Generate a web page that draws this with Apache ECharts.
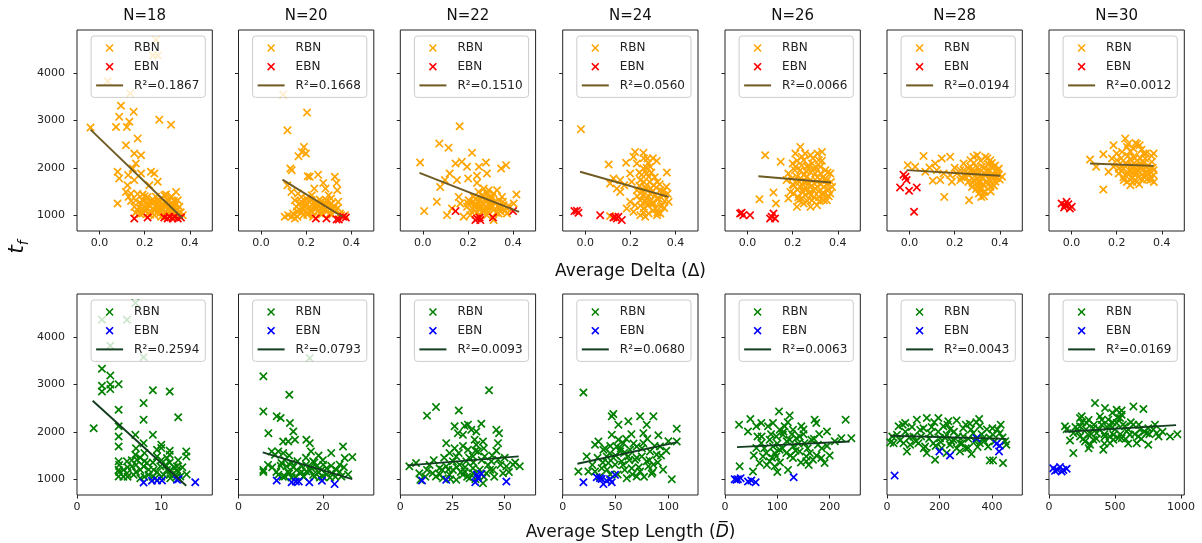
<!DOCTYPE html>
<html><head><meta charset="utf-8">
<script src="https://cdn.jsdelivr.net/npm/echarts@6/dist/echarts.min.js"></script>
<style>html,body{margin:0;padding:0;background:#fff}#c{width:1202px;height:543px}</style>
</head><body><div id="c"></div>
<script>
// ---------- DATA ----------
const nValues = [18, 20, 22, 24, 26, 28, 30];
const topR2 = ['0.1867', '0.1668', '0.1510', '0.0560', '0.0066', '0.0194', '0.0012'];
const botR2 = ['0.2594', '0.0793', '0.0093', '0.0680', '0.0063', '0.0043', '0.0169'];
const yTicks = [1000, 2000, 3000, 4000];
const deltaTicks = [0, 0.2, 0.4];
const stepTicks = [[0, 10], [0, 20], [0, 25, 50], [0, 50, 100], [0, 100, 200], [0, 200, 400], [0, 500, 1000]];
const stepMax = [16.05, 32.1, 64.8, 128, 258.6, 515, 1025];

// Average Delta panels (top row)
const d18R = [[-0.04,2850],[0.25,4700],[0.236,4370],[0.258,4370],[0.036,3825],[0.136,3565],[0.095,3310],[0.087,3075],[0.073,2860],[0.132,2970],[0.121,2860],[0.151,3180],[0.265,3015],[0.317,2910],[0.169,2615],[0.117,2475],[0.154,2300],[0.184,2265],[0.161,2090],[0.147,1985],[0.08,1915],[0.087,1775],[0.127,1845],[0.154,1740],[0.184,1880],[0.228,1915],[0.243,1880],[0.258,1705],[0.221,1630],[0.124,1630],[0.117,1490],[0.139,1455],[0.129,1385],[0.08,1245],[0.169,1445],[0.191,1435],[0.213,1385],[0.295,1435],[0.339,1490],[0.347,1315],[0.317,1385],[0.273,1350],[0.184,1245],[0.198,1175],[0.221,1280],[0.236,1140],[0.25,1210],[0.265,1105],[0.28,1245],[0.295,1175],[0.31,1070],[0.324,1245],[0.332,1140],[0.347,1035],[0.369,1000],[0.169,1105],[0.213,1035],[0.243,1000],[0.258,1070],[0.287,1000],[0.302,1315],[0.236,1330],[0.213,1140],[0.191,1035],[0.273,965],[0.324,965],[0.354,1175],[0.154,1175],[0.206,1280],[0.258,1315],[0.287,1420],[0.161,1315],[0.2,1100],[0.23,1060],[0.27,1180],[0.3,1120],[0.34,1080],[0.31,980],[0.18,1020],[0.26,1240],[0.22,1200],[0.35,1000],[0.16,1050],[0.175,1160],[0.19,1320],[0.205,1090],[0.215,1230],[0.225,1010],[0.235,1260],[0.245,1090],[0.255,1160],[0.262,1290],[0.27,1050],[0.278,1130],[0.285,1200],[0.292,1060],[0.3,1260],[0.308,1150],[0.315,1010],[0.322,1180],[0.33,1300],[0.338,1220],[0.345,1120],[0.36,1060],[0.14,1300],[0.2,1400],[0.25,1390],[0.32,1390]];
const d18E = [[0.154,930],[0.213,950],[0.287,950],[0.31,965],[0.324,930],[0.347,930],[0.361,950],[0.332,965],[0.302,930]];
const d18L = [[-0.04,2805],[0.369,930]];

const d20R = [[0.098,3545],[0.204,3165],[0.117,2790],[0.19,2440],[0.181,2335],[0.166,2245],[0.199,2300],[0.13,1985],[0.136,1950],[0.117,1630],[0.216,1810],[0.207,1820],[0.253,1855],[0.276,1680],[0.286,1560],[0.327,1810],[0.335,1680],[0.338,1525],[0.236,1560],[0.135,1490],[0.164,1455],[0.15,1315],[0.179,1280],[0.201,1350],[0.224,1315],[0.246,1245],[0.268,1280],[0.29,1315],[0.313,1245],[0.12,1000],[0.142,1035],[0.172,1105],[0.194,1175],[0.216,1105],[0.238,1175],[0.261,1140],[0.283,1105],[0.305,1035],[0.32,1140],[0.187,1000],[0.209,1035],[0.157,1175],[0.179,1385],[0.135,965],[0.261,1035],[0.231,965],[0.29,1210],[0.342,1280],[0.35,1035],[0.372,1000],[0.15,930],[0.105,965],[0.161,965],[0.2,1230],[0.25,1080],[0.3,1180],[0.33,1100],[0.18,1060],[0.27,1020],[0.16,1080],[0.17,1250],[0.185,1130],[0.195,1300],[0.205,1010],[0.215,1180],[0.225,1070],[0.235,1250],[0.245,1140],[0.255,1200],[0.265,1060],[0.275,1170],[0.285,1260],[0.295,1090],[0.305,1220],[0.315,1010],[0.325,1180],[0.34,1150],[0.355,1000],[0.21,1300],[0.26,1330],[0.31,1350],[0.225,1420],[0.3,1420]];
const d20E = [[0.243,930],[0.29,930],[0.335,910],[0.345,910],[0.376,950],[0.364,965]];
const d20L = [[0.095,1750],[0.361,965]];

const d22R = [[0.163,2875],[0.073,2510],[0.114,2425],[-0.012,2110],[0.218,2315],[0.145,2090],[0.173,2125],[0.196,2020],[0.249,2020],[0.28,2110],[0.284,1880],[0.201,1775],[0.24,1830],[0.24,1680],[0.151,1740],[0.119,1880],[0.098,1740],[0.077,1595],[0.369,2055],[0.347,1985],[0.415,1435],[0.062,1280],[0.006,1085],[0.107,1000],[0.159,1385],[0.166,1245],[0.203,1315],[0.225,1385],[0.247,1490],[0.27,1560],[0.292,1525],[0.314,1455],[0.329,1525],[0.351,1385],[0.233,1245],[0.255,1315],[0.277,1350],[0.299,1245],[0.321,1280],[0.225,1105],[0.247,1140],[0.27,1070],[0.292,1140],[0.314,1105],[0.336,1035],[0.21,1000],[0.284,1000],[0.373,1140],[0.403,1245],[0.196,1175],[0.129,1140],[0.181,965],[0.314,895],[0.373,1035],[0.358,1210],[0.307,1385],[0.262,1420],[0.26,1200],[0.3,1300],[0.28,1180],[0.24,1050],[0.34,1160],[0.21,1100],[0.22,1260],[0.23,1180],[0.235,1350],[0.245,1280],[0.25,1020],[0.258,1160],[0.265,1240],[0.27,1400],[0.275,1120],[0.282,1290],[0.288,1060],[0.295,1200],[0.302,1340],[0.31,1180],[0.318,1260],[0.325,1050],[0.332,1190],[0.34,1300],[0.345,1080],[0.355,1280],[0.365,1100],[0.38,1200],[0.2,1250],[0.285,1450]];
const d22E = [[0.145,1085],[0.24,930],[0.252,950],[0.233,895],[0.311,950],[0.4,1085],[0.255,895]];
const d22L = [[-0.015,1890],[0.427,1070]];

const d24R = [[-0.019,2815],[0.104,2070],[0.181,2105],[0.221,2335],[0.258,2315],[0.276,2195],[0.317,2145],[0.362,1900],[0.199,1880],[0.229,2090],[0.11,1670],[0.14,1560],[0.155,1490],[0.173,1630],[0.206,1705],[0.244,1740],[0.273,1880],[0.288,2020],[0.266,1595],[0.303,1630],[0.333,1525],[0.288,1455],[0.318,1350],[0.348,1420],[0.37,1280],[0.244,1315],[0.221,1210],[0.184,1140],[0.199,1280],[0.258,1140],[0.281,1035],[0.311,1140],[0.34,1210],[0.244,1000],[0.214,1070],[0.333,1035],[0.296,1245],[0.273,1350],[0.251,1490],[0.229,1525],[0.155,1740],[0.125,1775],[0.281,1810],[0.258,1985],[0.214,2230],[0.11,980],[0.266,965],[0.318,1000],[0.29,1560],[0.31,1420],[0.27,1260],[0.3,1100],[0.26,1700],[0.32,1700],[0.28,1400],[0.23,1400],[0.24,1620],[0.245,1200],[0.25,1850],[0.255,1420],[0.26,1050],[0.265,1300],[0.27,1550],[0.272,2000],[0.278,1200],[0.285,1700],[0.29,1300],[0.293,1900],[0.298,1500],[0.305,1250],[0.308,1800],[0.315,1580],[0.32,1050],[0.325,1350],[0.33,1650],[0.335,1180],[0.345,1500],[0.352,1300],[0.36,1600],[0.365,1450],[0.28,2100],[0.3,2200],[0.24,1900],[0.26,2200],[0.35,1150]];
const d24E = [[-0.048,1085],[-0.03,1050],[-0.037,1090],[0.066,1000],[0.125,950],[0.14,930],[0.147,965],[0.162,895],[0.133,965]];
const d24L = [[-0.023,1915],[0.37,1385]];

const d26R = [[0.078,2265],[0.147,2125],[0.053,1335],[0.115,1480],[0.126,1245],[0.234,2440],[0.212,2300],[0.279,2265],[0.33,2335],[0.316,2160],[0.2,2090],[0.249,2160],[0.181,1880],[0.173,1740],[0.181,1350],[0.204,1455],[0.227,1315],[0.249,1245],[0.279,1175],[0.308,1210],[0.338,1315],[0.367,1455],[0.375,1595],[0.352,1740],[0.323,1880],[0.293,1985],[0.264,2020],[0.234,1950],[0.219,1810],[0.249,1705],[0.279,1740],[0.308,1705],[0.338,1595],[0.293,1525],[0.264,1560],[0.234,1595],[0.204,1630],[0.212,2020],[0.241,2230],[0.286,2090],[0.323,2020],[0.345,1950],[0.256,1420],[0.316,1385],[0.219,1175],[0.286,1315],[0.352,1315],[0.197,1775],[0.264,1810],[0.33,1455],[0.367,1880],[0.249,1845],[0.19,1490],[0.23,1700],[0.27,1650],[0.3,1880],[0.26,1930],[0.22,1540],[0.34,1750],[0.36,1540],[0.31,1600],[0.21,1950],[0.22,2150],[0.225,1380],[0.235,1780],[0.24,2050],[0.245,1500],[0.255,2300],[0.26,1700],[0.265,1300],[0.27,2050],[0.275,1480],[0.28,1900],[0.285,1620],[0.29,2200],[0.295,1380],[0.3,1560],[0.305,2000],[0.31,1800],[0.315,1500],[0.32,1300],[0.325,1650],[0.33,2150],[0.335,1800],[0.34,1450],[0.35,1650],[0.355,1900],[0.36,1400],[0.37,1700],[0.25,1560],[0.28,1420],[0.31,2300],[0.2,1650],[0.24,1350]];
const d26E = [[-0.033,1035],[-0.019,1000],[0.011,1000],[-0.026,1050],[0.1,930],[0.115,1035],[0.122,930],[0.107,965]];
const d26L = [[0.048,1820],[0.37,1690]];

const d28R = [[-0.008,2055],[0.062,2250],[0.088,2005],[0.103,1725],[0.143,2195],[0.18,2230],[0.154,1385],[0.264,1315],[0.318,1385],[0.27,2160],[0.3,2265],[0.336,2230],[0.358,2160],[0.373,2020],[0.388,1880],[0.41,1810],[0.381,1705],[0.358,1595],[0.329,1490],[0.307,1630],[0.284,1740],[0.255,1880],[0.225,1950],[0.24,2090],[0.21,1880],[0.18,1845],[0.151,1880],[0.121,1950],[0.114,2090],[0.136,1740],[0.188,1705],[0.225,1740],[0.27,2020],[0.292,1915],[0.314,1810],[0.344,1950],[0.366,1810],[0.321,2020],[0.284,2230],[0.247,1810],[0.277,1595],[0.314,1705],[0.344,1705],[0.396,1985],[0.07,1915],[0.025,2020],[0.307,1455],[0.33,1880],[0.35,1760],[0.3,1780],[0.26,1990],[0.38,1930],[0.32,1560],[0.35,2080],[0.26,1700],[0.265,1850],[0.275,1950],[0.28,1680],[0.285,2100],[0.29,1830],[0.295,1550],[0.3,2000],[0.305,1700],[0.31,1900],[0.315,2150],[0.32,1780],[0.325,1650],[0.33,2000],[0.335,1500],[0.34,1850],[0.345,2200],[0.35,1650],[0.355,1950],[0.36,1720],[0.365,2100],[0.37,1880],[0.375,1620],[0.38,2050],[0.385,1780],[0.39,1950],[0.395,1850],[0.4,1750],[0.31,1550],[0.33,1400],[0.36,1500],[0.24,1950],[0.2,2000],[0.23,1800]];
const d28E = [[-0.027,1855],[-0.013,1740],[-0.042,1585],[-0.002,1515],[0.032,1585],[-0.018,1810],[0.02,1070]];
const d28L = [[-0.013,1950],[0.402,1830]];

const d30R = [[0.082,2175],[0.109,2020],[0.141,2285],[0.141,1540],[0.186,2475],[0.164,1915],[0.238,2615],[0.246,2440],[0.283,2525],[0.302,2475],[0.275,2230],[0.319,2300],[0.364,2300],[0.224,2335],[0.201,2160],[0.186,2020],[0.209,1880],[0.232,1740],[0.261,1630],[0.29,1705],[0.32,1810],[0.349,1740],[0.364,1950],[0.334,2020],[0.305,2090],[0.275,2020],[0.246,2055],[0.224,1950],[0.253,1880],[0.283,1915],[0.312,1950],[0.342,1880],[0.298,1810],[0.268,1775],[0.238,1845],[0.216,2090],[0.356,2125],[0.179,2195],[0.261,2175],[0.327,2195],[0.364,1845],[0.25,2250],[0.29,2150],[0.33,1900],[0.27,1900],[0.31,2380],[0.21,1980],[0.22,2200],[0.23,1800],[0.24,2100],[0.245,1700],[0.255,1950],[0.26,2350],[0.265,2050],[0.27,1700],[0.275,2400],[0.28,1850],[0.285,2050],[0.29,2500],[0.295,1950],[0.3,1650],[0.305,2200],[0.31,2000],[0.315,1750],[0.32,2100],[0.325,1900],[0.33,2300],[0.335,1750],[0.34,2050],[0.345,1950],[0.35,1800],[0.355,2250],[0.36,2000],[0.365,1700],[0.2,2300],[0.25,2500],[0.28,2200],[0.23,1980]];
const d30E = [[-0.044,1245],[-0.029,1210],[-0.014,1230],[-0.007,1140],[-0.033,1160],[-0.022,1280],[0.001,1175]];
const d30L = [[0.082,2090],[0.364,2040]];

// Average Step Length panels (bottom row)
const s18R = [[6.92,4720],[2.96,4365],[5.93,4365],[3.95,3815],[7.9,3575],[2.96,3330],[3.95,3185],[3.95,2995],[2.96,2970],[2.96,2850],[4.94,3005],[3.95,2900],[9.0,2875],[11.0,2850],[7.9,2605],[7.9,2255],[12.0,2305],[1.98,2075],[4.94,2465],[4.94,2115],[4.94,1900],[4.94,1690],[4.94,1375],[4.94,1195],[4.94,1055],[5.93,1375],[6.92,1515],[6.92,1935],[7.9,1760],[9.0,1935],[10,1725],[10,1655],[11,1515],[12.96,1585],[12.96,1480],[11.86,1270],[5.53,1195],[6.52,1270],[7.51,1195],[8.3,1340],[9.09,1195],[9.88,1270],[10.67,1195],[11.46,1125],[6.72,1090],[7.51,1020],[8.5,1090],[9.29,1020],[10.28,1090],[11.07,1020],[11.86,1055],[7.11,1410],[9.49,1480],[10.67,1445],[11.86,1195],[5.93,1125],[7.9,1270],[11.07,1195],[12.25,1055],[9.49,1620],[5,1150],[5,1300],[5.5,1050],[6,1250],[6.5,1400],[7,1150],[7,1300],[7.5,1450],[8,1050],[8,1380],[8.5,1200],[9,1050],[9,1350],[9.5,1150],[10,1050],[10,1400],[10.5,1300],[11,1100],[11,1350],[11.5,1250],[12,1150],[12,1400],[12.5,1250],[6,1050],[13,1100],[8,1550],[11,1600],[7,1650]];
const s18E = [[7.9,930],[8.89,965],[9.49,970],[10.08,970],[11.86,985],[12.06,1000],[14.03,935]];
const s18L = [[1.86,2655],[12.96,860]];

const s20R = [[16.9,3555],[5.9,3170],[12.05,2780],[5.9,2430],[9.06,2325],[10.0,2290],[7.09,1970],[12.2,2185],[13.0,2005],[10.6,1795],[11.8,1795],[13.4,1830],[16.1,1830],[16.9,1760],[17.2,1585],[24.8,1690],[25.2,1445],[27.0,1465],[5.9,1195],[5.9,1150],[7.87,1585],[8.66,1515],[9.45,1585],[10.6,1550],[10.2,1340],[11.4,1270],[12.6,1340],[13.8,1195],[15.0,1270],[16.1,1160],[17.3,1230],[18.5,1270],[19.7,1195],[20.9,1230],[22.0,1125],[23.2,1195],[24.0,1305],[9.45,1090],[11.0,1055],[12.6,1035],[15.4,1055],[17.7,1090],[19.3,1035],[21.7,1035],[24.4,1055],[14.6,1125],[11.8,1160],[17.7,1375],[20.1,1305],[8,1250],[9,1150],[10,1280],[10.5,1050],[11,1400],[12,1120],[13,1250],[13.5,1050],[14,1380],[15,1150],[15.5,1050],[16,1300],[17,1180],[18,1050],[18,1350],[19,1150],[20,1400],[21,1100],[22,1280],[23,1050],[24,1150],[25,1250],[26,1100],[16,1450],[19,1500],[22,1550],[12,1500],[7,1300],[20,1050]];
const s20E = [[9.06,970],[12.6,935],[13.6,950],[14.3,950],[16.8,935],[19.8,965],[22.8,895]];
const s20L = [[5.75,1565],[27.0,1000]];

const s22R = [[42.5,2875],[12.8,2340],[17.1,2520],[28.0,2450],[22.0,1760],[26.0,2115],[27.6,1970],[30.8,2125],[32.4,2150],[34.0,2040],[36.4,2005],[38.8,2170],[30.0,1935],[35.6,1830],[39.6,1795],[46.0,2040],[47.3,1970],[46.8,1760],[4.33,1270],[7.53,1340],[9.13,1125],[9.6,985],[12.8,1195],[15.5,1125],[18.75,1230],[22.0,1270],[25.2,1195],[28.4,1305],[31.6,1375],[34.8,1480],[37.2,1585],[40.4,1480],[43.6,1375],[46.8,1410],[50.8,1270],[54.0,1305],[57.2,1270],[23.6,1550],[26.8,1480],[32.4,1620],[36.4,1725],[17.1,1055],[20.4,1020],[23.6,1090],[26.8,985],[30.0,1090],[33.2,1020],[37.2,1055],[41.2,1125],[44.4,1195],[49.2,1125],[25.2,1375],[34.8,1230],[39.6,915],[30.8,1160],[34.8,1125],[14,1300],[16,1400],[19,1100],[21,1450],[23,1200],[24,1000],[27,1250],[28,1550],[29,1150],[31,1250],[32,1050],[33,1450],[35,1350],[36,1000],[36,1600],[38,1200],[39,1400],[40,1050],[42,1300],[43,1200],[45,1050],[46,1600],[48,1300],[50,1450],[52,1150],[55,1350],[26,1650],[30,1700],[40,1650],[44,1500],[20,1200],[12,1050]];
const s22E = [[10.4,970],[22.0,985],[35.9,935],[36.7,1090],[38.8,1115],[50.8,950],[37.2,1020]];
const s22L = [[3.53,1290],[56.7,1480]];

const s24R = [[19.6,2830],[46.4,2325],[47.9,2375],[62.1,2220],[73.2,2325],[85.8,2325],[52.7,2150],[79.5,2150],[76.3,1970],[107.9,2065],[107.9,1795],[90.5,1925],[33.8,1795],[52.7,1830],[22.7,1480],[14.8,1160],[30.6,1725],[38.5,1620],[44.8,1550],[51.1,1690],[57.4,1760],[63.7,1620],[70.0,1690],[76.3,1760],[82.6,1585],[88.9,1515],[62.1,1480],[68.5,1410],[74.8,1480],[79.5,1375],[85.8,1305],[55.8,1375],[49.5,1305],[43.2,1340],[36.9,1230],[30.6,1160],[58.7,1195],[65.3,1230],[73.2,1160],[81.1,1270],[60.6,1020],[70.0,1055],[84.2,1115],[103.2,1000],[54.3,1585],[41.6,1480],[46.4,1935],[92.1,1690],[24.3,1160],[28,1300],[33,1450],[38,1350],[42,1200],[45,1700],[48,1450],[52,1100],[55,1650],[57,1300],[60,1850],[63,1400],[66,1100],[67,1750],[70,1450],[72,1250],[75,1650],[77,1050],[80,1850],[82,1400],[85,1150],[87,1700],[90,1350],[93,1500],[95,1200],[98,1600],[100,1800],[65,1950],[58,1550],[50,1500],[40,1650],[35,1050],[45,1100]];
const s24E = [[19.6,935],[32.2,1040],[36.9,1005],[38.5,895],[41.6,965],[44.8,1000],[46.4,935],[49.5,1090],[35.3,1020]];
const s24L = [[13.9,1325],[108.5,1780]];

const s26R = [[103.2,2430],[123.6,2345],[26.8,2150],[43.9,2005],[48.4,2270],[69.4,2185],[82.2,2115],[91.7,2185],[114.0,2115],[130.0,2040],[145.9,2115],[171.3,2255],[174.5,2185],[194.9,2005],[230.6,2255],[241.4,1865],[222.3,1865],[59.9,1655],[69.4,1760],[85.4,1830],[98.1,1900],[110.8,1935],[123.6,1830],[136.3,1865],[152.2,1760],[165.0,1830],[177.7,1725],[91.7,1690],[104.5,1620],[117.2,1550],[130.0,1690],[142.7,1585],[155.4,1480],[168.2,1410],[184.1,1445],[190.4,1340],[72.6,1480],[85.4,1375],[94.9,1270],[79.0,1550],[66.2,1340],[53.5,1160],[98.1,1480],[130.0,1445],[120.4,1195],[155.4,1375],[59.9,2115],[104.5,2040],[142.7,1900],[28.0,1270],[55,1500],[62,1900],[75,1650],[80,1300],[88,1950],[95,1550],[100,1750],[105,1350],[110,1650],[112,2000],[118,1800],[125,1500],[128,1950],[135,1600],[140,1750],[145,1350],[150,1950],[158,1650],[162,1550],[170,1850],[175,1500],[180,1950],[185,1650],[195,1700],[200,1500],[210,1800],[120,2200],[90,1450],[150,2050],[160,1300],[70,1900],[100,1150]];
const s26E = [[18.5,1000],[24.8,1000],[29.9,1020],[21.7,985],[43.9,950],[50.3,970],[58.6,935],[131.2,1040]];
const s26L = [[22.9,1675],[238.2,1795]];

const s28R = [[12.6,1775],[44.2,2115],[69.4,2185],[113.6,2255],[151.4,2290],[195.6,2290],[233.5,2220],[265.0,2240],[315.5,2170],[350.8,2270],[401.3,2075],[432.8,2150],[75.7,1585],[183.0,1410],[391.2,1395],[403.8,1395],[441.6,1340],[321.8,1530],[37.9,1935],[63.1,1760],[100.9,1900],[126.2,2040],[164.1,1970],[201.9,1865],[227.1,1935],[252.4,1830],[290.2,1900],[328.1,1970],[365.9,1865],[403.8,1935],[88.3,1725],[119.9,1760],[145.1,1690],[176.7,1760],[208.2,1655],[239.7,1725],[277.6,1760],[309.1,1655],[353.3,1760],[384.8,1690],[454.3,1725],[151.4,1550],[227.1,1550],[277.6,1585],[138.8,2075],[214.5,2115],[290.2,2075],[353.3,2115],[429.0,1970],[25.2,1760],[20,1900],[50,1820],[70,2000],[85,1880],[95,2100],[110,1800],[130,1900],[140,1650],[160,1850],[170,2100],[185,1700],[195,2000],[205,1780],[220,1880],[230,2150],[245,1800],[255,2000],[265,1650],[270,1900],[285,1750],[300,2150],[310,1850],[320,2050],[335,1800],[345,1680],[360,1950],[370,1800],[380,2050],[390,1880],[410,1800],[420,2050],[440,1880],[450,1800],[180,2200],[300,1650],[60,2150],[240,2050],[340,2200]];
const s28E = [[29.0,1075],[199.4,1585],[239.7,1500],[340.7,1865],[416.4,1745],[426.5,1585],[429.0,1705]];
const s28L = [[12.6,1915],[454.3,1850]];

const s30R = [[121.2,2115],[133.8,2055],[184.3,1550],[159.1,1815],[234.8,2290],[247.5,2325],[348.5,2605],[424.2,2500],[512.6,2465],[550.5,2360],[639.6,2535],[715.3,2480],[386.4,2325],[449.5,2255],[537.9,2290],[234.8,2115],[285.4,2185],[335.9,2075],[399.0,2150],[462.1,2115],[512.6,2185],[575.8,2115],[638.9,2150],[689.4,2040],[752.5,2075],[803.0,2150],[815.7,1970],[234.8,1900],[297.9,1935],[361.1,1970],[424.2,1900],[487.4,1935],[550.5,1865],[613.6,1935],[676.8,1900],[739.9,1970],[310.6,1725],[411.6,1620],[487.4,1830],[525.3,1865],[664.1,1760],[752.5,1725],[916.7,1900],[972.2,1950],[588.4,2005],[335.9,1830],[462.1,1760],[184.3,1970],[272.7,1795],[200,2100],[220,2000],[250,2200],[260,1850],[280,2050],[300,2250],[320,1950],[340,2150],[360,1850],[380,2050],[400,2250],[420,1950],[440,2100],[460,1900],[480,2200],[500,2050],[520,2300],[540,1950],[560,2150],[580,1850],[600,2050],[620,2200],[650,1950],[680,2150],[700,1850],[720,2000],[760,1950],[790,2050],[830,1900],[860,2000],[550,2450],[480,2400],[300,1650],[420,1750],[600,1750]];
const s30E = [[32.8,1230],[63.1,1195],[83.3,1255],[108.6,1195],[133.8,1220],[45.5,1175],[96,1160]];
const s30L = [[121.2,2000],[962.1,2140]];

const topRBN = [d18R, d20R, d22R, d24R, d26R, d28R, d30R];
const topEBN = [d18E, d20E, d22E, d24E, d26E, d28E, d30E];
const topFit = [d18L, d20L, d22L, d24L, d26L, d28L, d30L];
const botRBN = [s18R, s20R, s22R, s24R, s26R, s28R, s30R];
const botEBN = [s18E, s20E, s22E, s24E, s26E, s28E, s30E];
const botFit = [s18L, s20L, s22L, s24L, s26L, s28L, s30L];

// ---------- LAYOUT / STYLE ----------
const W = 1202;
const FONT = 'DejaVu Sans';
const lefts = [77, 238.5, 400.3, 562.7, 725, 887, 1049];
const PW = 135.3, PH = 201;
const tops = [30, 294];
const Y_MIN = 665, Y_MAX = 4908;
const X_PATH = 'path://M1.4 0L5 3.6L8.6 0L10 1.4L6.4 5L10 8.6L8.6 10L5 6.4L1.4 10L0 8.6L3.6 5L0 1.4Z';
const rowStyle = [
  {rbn: '#FFA500', ebn: '#FF0000', fit: '#6E5A22'},
  {rbn: '#008000', ebn: '#0000FF', fit: '#123D20'}
];

const grid = [], xAxis = [], yAxis = [], series = [], legend = [], graphic = [];

for (let r = 0; r < 2; r++) {
  for (let c = 0; c < 7; c++) {
    const idx = r * 7 + c;
    grid.push({left: lefts[c], top: tops[r], width: PW, height: PH, show: true,
      borderColor: '#222', borderWidth: 1, backgroundColor: 'transparent'});
    const ticks = r === 0 ? deltaTicks : stepTicks[c];
    xAxis.push({type: 'value', gridIndex: idx,
      min: r === 0 ? -0.1 : 0, max: r === 0 ? 0.5 : stepMax[c],
      axisLine: {show: false, onZero: false}, splitLine: {show: false},
      axisTick: {show: true, length: 3.5, inside: false, customValues: ticks, lineStyle: {color: '#222', width: 1}},
      axisLabel: {show: true, customValues: ticks, margin: 7, fontSize: 11, color: '#222', fontFamily: FONT,
        formatter: r === 0 ? (v => Number(v).toFixed(1)) : (v => String(v))}
    });
    yAxis.push({type: 'value', gridIndex: idx, min: Y_MIN, max: Y_MAX,
      axisLine: {show: false, onZero: false}, splitLine: {show: false},
      axisTick: {show: true, length: 3.5, inside: false, customValues: yTicks, lineStyle: {color: '#222', width: 1}},
      axisLabel: {show: c === 0, customValues: yTicks, margin: 12, fontSize: 11, color: '#222', fontFamily: FONT,
        formatter: v => String(v)}
    });
    const st = rowStyle[r];
    const r2 = (r === 0 ? topR2 : botR2)[c];
    const names = ['RBN#' + idx, 'EBN#' + idx, 'R\u00b2=' + r2 + '#' + idx];
    series.push({type: 'scatter', name: names[0], xAxisIndex: idx, yAxisIndex: idx,
      data: (r === 0 ? topRBN : botRBN)[c], symbol: X_PATH, symbolSize: 8.5, symbolKeepAspect: true,
      itemStyle: {color: st.rbn, opacity: 1}, z: 2, silent: true});
    series.push({type: 'scatter', name: names[1], xAxisIndex: idx, yAxisIndex: idx,
      data: (r === 0 ? topEBN : botEBN)[c], symbol: X_PATH, symbolSize: 8.5, symbolKeepAspect: true,
      itemStyle: {color: st.ebn, opacity: 1}, z: 2, silent: true});
    series.push({type: 'line', name: names[2], xAxisIndex: idx, yAxisIndex: idx,
      data: (r === 0 ? topFit : botFit)[c], symbol: 'none', showSymbol: false,
      lineStyle: {color: st.fit, width: 1.9}, itemStyle: {color: st.fit}, z: 3, silent: true});
    legend.push({data: [names[0], names[1], {name: names[2], itemStyle: {opacity: 0, color: 'rgba(0,0,0,0)', borderWidth: 0}}],
      orient: 'vertical', selectedMode: false,
      right: W - (lefts[c] + PW) + 7, top: tops[r] + 6,
      itemWidth: 27, itemHeight: 8, itemGap: 4.7, padding: [5, 6, 5, 4],
      backgroundColor: 'rgba(255,255,255,0.8)', borderColor: '#cccccc', borderWidth: 1, borderRadius: 3,
      formatter: n => n.split('#')[0],
      textStyle: {fontSize: 12, color: '#222', fontFamily: FONT, lineHeight: 14, padding: [0, 0, 0, 6]}
    });
  }
}

for (let c = 0; c < 7; c++) {
  graphic.push({type: 'text', x: lefts[c] + PW / 2, y: 16.5, silent: true,
    style: {text: 'N=' + nValues[c], font: '15px "DejaVu Sans"', fill: '#111',
      align: 'center', verticalAlign: 'middle', textAlign: 'center', textVerticalAlign: 'middle'}});
}
graphic.push({type: 'text', x: 630.5, y: 272, silent: true,
  style: {text: 'Average Delta (\u0394)', font: '17px "DejaVu Sans"', fill: '#111',
    align: 'center', verticalAlign: 'middle', textAlign: 'center', textVerticalAlign: 'middle'}});
graphic.push({type: 'text', x: 630.5, y: 533, silent: true,
  style: {text: '{a|Average Step Length (}{d|D\u0305}{a|)}', fill: '#111',
    align: 'center', verticalAlign: 'middle', textAlign: 'center', textVerticalAlign: 'middle',
    rich: {a: {fontSize: 17, fontFamily: FONT, fill: '#111', lineHeight: 22},
           d: {fontSize: 17, fontFamily: FONT, fontStyle: 'italic', fill: '#111', lineHeight: 22}}}});
graphic.push({type: 'text', x: 17, y: 247, rotation: Math.PI / 2, silent: true,
  style: {text: '{t|t}{f|f}', align: 'center', verticalAlign: 'middle', textAlign: 'center', textVerticalAlign: 'middle',
    rich: {t: {fontSize: 22, fontFamily: FONT, fontStyle: 'italic', fill: '#111', lineHeight: 28, verticalAlign: 'middle'},
           f: {fontSize: 14, fontFamily: FONT, fontStyle: 'italic', fill: '#111', lineHeight: 14, verticalAlign: 'bottom'}}}});

const chart = echarts.init(document.getElementById('c'), null, {renderer: 'canvas'});
chart.setOption({animation: false, backgroundColor: '#fff', textStyle: {fontFamily: FONT},
  grid, xAxis, yAxis, series, legend, graphic});
</script></body></html>
